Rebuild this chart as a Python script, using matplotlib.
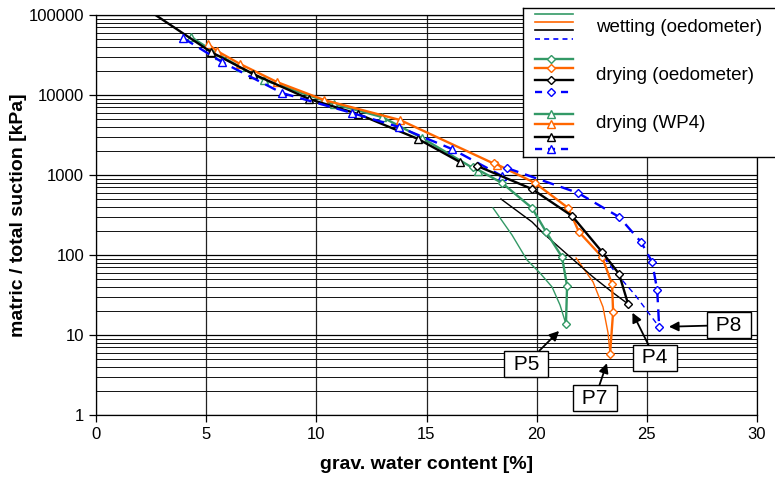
import matplotlib
matplotlib.use("Agg")
import matplotlib.pyplot as plt
from matplotlib.ticker import FixedLocator, FuncFormatter, LogLocator, NullFormatter

plt.rcParams['font.family'] = ['Liberation Sans', 'DejaVu Sans']

GREEN = '#339966'
ORANGE = '#FF6600'
BLACK = '#000000'
BLUE = '#0000FF'

# drying (WP4) - triangles
wp4_green_w = [4.31, 5.58, 6.54, 7.63, 10.80, 12.98, 14.80, 17.34]
wp4_green_s = [53100, 31600, 22400, 15400, 7720, 5310, 2900, 1120]
wp4_orange_w = [5.08, 5.49, 6.54, 8.22, 10.35, 13.80, 18.20]
wp4_orange_s = [43400, 35500, 24400, 14500, 8660, 4870, 1330]
wp4_black_w = [2.7, 5.22, 7.13, 9.67, 11.89, 14.62, 16.52]
wp4_black_s = [100000, 34500, 18300, 8910, 5790, 2820, 1450]
wp4_blue_w = [3.95, 5.72, 8.44, 11.62, 13.75, 16.16, 18.43]
wp4_blue_s = [51600, 25800, 10600, 5960, 3980, 2110, 971]

# drying (oedometer) - diamonds
oed_green_w = [17.11, 18.43, 19.79, 20.43, 21.15, 21.38, 21.33]
oed_green_s = [1260, 794, 387, 194, 94.4, 41.0, 13.7]
oed_orange_w = [18.07, 19.93, 21.43, 21.92, 22.97, 23.42, 23.47, 23.33]
oed_orange_s = [1410, 794, 387, 194, 94.4, 43.4, 19.4, 5.79]
oed_black_w = [17.29, 19.79, 21.61, 22.97, 23.74, 24.15]
oed_black_s = [1300, 668, 307, 109, 57.9, 24.4]
oed_blue_w = [18.66, 21.88, 23.74, 24.74, 25.24, 25.47, 25.56]
oed_blue_s = [1220, 596, 299, 145, 81.8, 36.5, 12.6]

# wetting (oedometer) - thin lines
wet_green_w = [18.02, 18.88, 19.56, 20.15, 20.70, 21.06, 21.33]
wet_green_s = [387, 178, 86.6, 59.6, 39.8, 23.7, 13.7]
wet_black_w = [18.38, 19.79, 20.29, 21.52, 22.56, 23.42, 24.15]
wet_black_s = [501, 259, 188, 94.4, 53.1, 34.5, 24.4]
wet_orange_w = [21.79, 22.56, 23.01, 23.24, 23.33]
wet_orange_s = [91.7, 46.0, 22.4, 10.6, 5.79]
wet_blue_w = [22.79, 23.56, 24.47, 25.15, 25.56]
wet_blue_s = [115, 61.3, 31.6, 17.8, 12.6]

# sample labels: (name, point w, point s, label w, label s)
labels = [("P5", 21.33, 13.7, 19.52, 4.34),
          ("P7", 23.33, 5.79, 22.65, 1.63),
          ("P4", 24.15, 24.4, 25.37, 5.16),
          ("P8", 25.56, 12.6, 28.73, 13.3)]

fig = plt.figure(figsize=(7.75, 4.87), dpi=100)
ax = fig.add_axes([96 / 775, 1 - 415 / 487, 661 / 775, 400 / 487])

thin = 1.0
thick = 1.7
dash_thin = (0, (4, 3))
dash_thick = (0, (5, 3))

ax.plot(wet_green_w, wet_green_s, color=GREEN, lw=thin)
ax.plot(wet_orange_w, wet_orange_s, color=ORANGE, lw=thin)
ax.plot(wet_black_w, wet_black_s, color=BLACK, lw=thin)
ax.plot(wet_blue_w, wet_blue_s, color=BLUE, lw=thin, ls=dash_thin)

tri = dict(marker='^', ms=6, mfc='white', mew=1.0)
ax.plot(wp4_green_w, wp4_green_s, color=GREEN, lw=thick, **tri)
ax.plot(wp4_orange_w, wp4_orange_s, color=ORANGE, lw=thick, **tri)
ax.plot(wp4_black_w, wp4_black_s, color=BLACK, lw=thick, markevery=list(range(1, len(wp4_black_w))), **tri)
ax.plot(wp4_blue_w, wp4_blue_s, color=BLUE, lw=thick, ls=dash_thick, **tri)

dia = dict(marker='D', ms=4.5, mfc='white', mew=1.0)
ax.plot(oed_green_w, oed_green_s, color=GREEN, lw=thick, **dia)
ax.plot(oed_orange_w, oed_orange_s, color=ORANGE, lw=thick, **dia)
ax.plot(oed_black_w, oed_black_s, color=BLACK, lw=thick, **dia)
ax.plot(oed_blue_w, oed_blue_s, color=BLUE, lw=thick, ls=dash_thick, **dia)

for name, pw, ps, lw_, ls_ in labels:
    ax.annotate(' ' + name + ' ', xy=(pw, ps), xytext=(lw_, ls_), fontsize=15,
                ha='center', va='center',
                bbox=dict(boxstyle='square,pad=0.15', fc='white', ec='black', lw=1.0),
                arrowprops=dict(arrowstyle='-|>', color='black', lw=1.3,
                                mutation_scale=14, shrinkA=0, shrinkB=7))

ax.set_yscale('log')
ax.set_xlim(0, 30)
ax.set_ylim(1, 100000)
ax.xaxis.set_major_locator(FixedLocator([0, 5, 10, 15, 20, 25, 30]))
ax.yaxis.set_major_locator(LogLocator(base=10))
ax.yaxis.set_minor_locator(LogLocator(base=10, subs=[2, 3, 4, 5, 6, 7, 8, 9]))
ax.yaxis.set_major_formatter(FuncFormatter(lambda v, p: '%d' % round(v)))
ax.yaxis.set_minor_formatter(NullFormatter())
ax.grid(which='major', axis='x', color='#222222', lw=0.9)
ax.grid(which='major', axis='y', color='black', lw=0.9)
ax.grid(which='minor', axis='y', color='#111111', lw=0.7)
ax.set_axisbelow(True)
ax.tick_params(which='major', labelsize=12, length=5, width=0.9, color='black')
ax.tick_params(which='minor', length=0)
for sp in ax.spines.values():
    sp.set_linewidth(0.9)

ax.set_xlabel('grav. water content [%]', fontsize=14, fontweight='bold', labelpad=10)
ax.set_ylabel('matric / total suction [kPa]', fontsize=14, fontweight='bold', labelpad=1)

# legend box, drawn in pixel coordinates
lg = fig.add_axes([523 / 775, 1 - 157 / 487, 267 / 775, 149 / 487])
lg.set_xlim(523, 790)
lg.set_ylim(157, 8)
lg.set_xticks([])
lg.set_yticks([])
for sp in lg.spines.values():
    sp.set_linewidth(1.0)

x0, x1, xm = 535, 573, 551
groups = [
    ("wetting (oedometer)", [14, 22, 30, 39], None, 1.2, 28),
    ("drying (oedometer)", [59, 68, 80, 92], 'D', thick, 76),
    ("drying (WP4)", [114, 124, 137, 149], '^', thick, 123),
]
colors = [GREEN, ORANGE, BLACK, BLUE]
for text, ys, mk, lwid, ty in groups:
    for c, y in zip(colors, ys):
        ls = '-' if c != BLUE else (0, (3, 2.5))
        lg.plot([x0, x1], [y, y], color=c, lw=lwid, ls=ls)
        if mk is not None:
            lg.plot([xm], [y], color=c, marker=mk, ms=5.5 if mk == '^' else 4.5,
                    mfc='white', mew=1.0)
    lg.text(596, ty, text, fontsize=13.5, va='center', ha='left')

fig.savefig('out.png', dpi=100)
